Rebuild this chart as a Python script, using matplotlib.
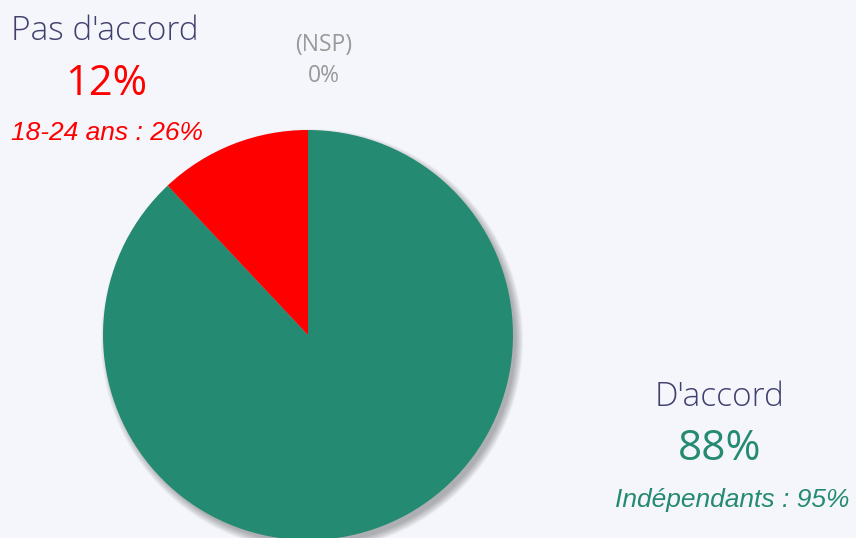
import matplotlib.pyplot as plt
from matplotlib.patches import Circle

# --- Données ---
labels = ["D'accord", "Pas d'accord", "(NSP)"]
values = [88, 12, 0]
colors = ["#248a72", "#ff0000", "#999999"]
sous_labels = ["Indépendants : 95%", "18-24 ans : 26%"]

bg = "#f5f6fb"
txt_dark = "#414170"
sans = ["Open Sans", "DejaVu Sans"]
ital = ["Liberation Sans", "DejaVu Sans"]

fig = plt.figure(figsize=(8.56, 5.38), dpi=100, facecolor=bg)
ax = fig.add_axes([0, 0, 1, 1])
ax.set_facecolor(bg)

cx, cy, r = 308, 538 - 335, 205

# ombre portée (flou approximatif)
for i in range(8):
    ax.add_patch(Circle((cx + 4, cy - 5), r + 6 - i, color="#000000",
                        alpha=0.04, lw=0, zorder=1))

# camembert (on ne trace que les parts non nulles)
pv = [v for v in values if v > 0]
pc = [c for v, c in zip(values, colors) if v > 0]
ax.pie(pv, colors=pc, startangle=90, counterclock=False, center=(cx, cy),
       radius=r, wedgeprops=dict(linewidth=0), frame=True)
ax.set_xlim(0, 856)
ax.set_ylim(0, 538)
ax.set_aspect("equal")
ax.axis("off")

def y(p):
    return 538 - p

# Pas d'accord
ax.text(105, y(31), labels[1], ha="center", va="center", fontsize=24,
        color=txt_dark, family=sans, fontweight="light")
ax.text(106, y(84), f"{values[1]}%", ha="center", va="center", fontsize=30,
        color=colors[1], family=sans)
ax.text(107, y(133), sous_labels[1], ha="center", va="center", fontsize=19,
        color=colors[1], family=ital, style="italic")

# NSP
ax.text(324, y(45), labels[2], ha="center", va="center", fontsize=16.5,
        color=colors[2], family=sans)
ax.text(324, y(76), f"{values[2]}%", ha="center", va="center", fontsize=16.5,
        color=colors[2], family=sans)

# D'accord
ax.text(720, y(397), labels[0], ha="center", va="center", fontsize=24,
        color=txt_dark, family=sans, fontweight="light")
ax.text(720, y(449), f"{values[0]}%", ha="center", va="center", fontsize=30.5,
        color=colors[0], family=sans)
ax.text(732, y(500), sous_labels[0], ha="center", va="center", fontsize=19,
        color=colors[0], family=ital, style="italic")

fig.savefig("out.png", dpi=100, facecolor=bg)
